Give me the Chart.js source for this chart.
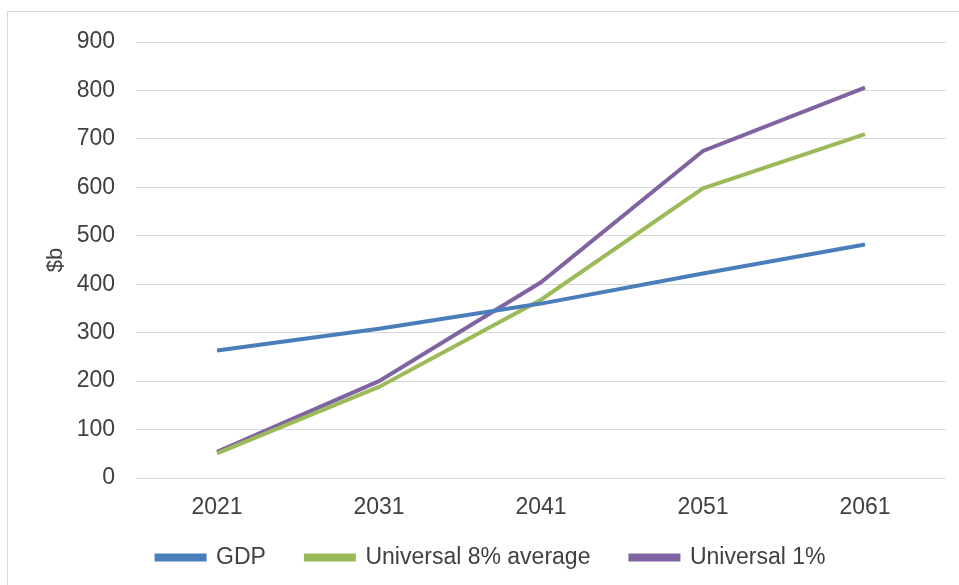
<!DOCTYPE html>
<html>
<head>
<meta charset="utf-8">
<script src="https://cdn.jsdelivr.net/npm/chart.js@4"></script>
<style>
  body { margin: 0; background: #fff; }
  #wrap { position: relative; width: 959px; height: 585px; overflow: hidden; }
  #frame { position: absolute; left: 7px; top: 11px; width: 1000px; height: 1000px; border: 1px solid #d9d9d9; }
  #myChart { position: absolute; left: 0; top: 0; }
</style>
</head>
<body>
<div id="wrap">
  <div id="frame"></div>
  <canvas id="myChart" width="959" height="585"></canvas>
</div>
<script>
// x-axis labels
var years = ["2021", "2031", "2041", "2051", "2061"];
// series values, $b
var gdp = [263, 308, 360, 422, 482];
var universal8 = [51, 188, 368, 598, 710];
var universal1 = [54, 200, 404, 675, 806];

var textColor = "#404040";
var fontFamily = "'Liberation Sans', Arial, sans-serif";

var ctx = document.getElementById("myChart");

function series(label, values, color) {
    return {
        label: label,
        data: values,
        borderColor: color,
        backgroundColor: color,
        borderWidth: 4,
        pointRadius: 0,
        tension: 0,
        fill: false
    };
}

// nudge the legend a bit right (the original isn't centred on the canvas)
// and let the x labels spill below the thin x axis box without clipping
var layoutTweaks = {
    id: 'layoutTweaks',
    afterLayout: function (chart) {
        chart.legend.left += 18;
        chart.legend.right += 18;
        chart.scales.x.bottom += 20;
    }
};

var myChart = new Chart(ctx, {
    type: 'line',
    data: {
        labels: years,
        datasets: [
            series("GDP", gdp, "#4a7ebb"),
            series("Universal 8% average", universal8, "#9bbb59"),
            series("Universal 1%", universal1, "#8064a2")
        ]
    },
    plugins: [layoutTweaks],
    options: {
        responsive: false,
        animation: false,
        layout: { padding: { left: 0, right: 13, top: 42, bottom: 6 } },
        plugins: {
            tooltip: { enabled: false },
            legend: {
                position: 'bottom',
                labels: {
                    boxWidth: 48,
                    boxHeight: 4,
                    padding: 40,
                    color: textColor,
                    font: { family: fontFamily, size: 23 }
                }
            }
        },
        scales: {
            x: {
                offset: true,
                grid: { display: false },
                border: { display: false },
                ticks: {
                    color: textColor,
                    padding: 8,
                    font: { family: fontFamily, size: 23 }
                },
                afterFit: function (scale) { scale.height = 28; }
            },
            y: {
                min: 0,
                max: 900,
                ticks: {
                    stepSize: 100,
                    color: textColor,
                    padding: 21,
                    font: { family: fontFamily, size: 23 }
                },
                grid: { color: "#d9d9d9", lineWidth: 1, drawTicks: false },
                border: { display: false },
                title: {
                    display: true,
                    text: "$b",
                    color: textColor,
                    padding: { top: 43, bottom: 0 },
                    font: { family: fontFamily, size: 22 }
                },
                afterFit: function (scale) { scale.width = 136; }
            }
        }
    }
});
</script>
</body>
</html>
